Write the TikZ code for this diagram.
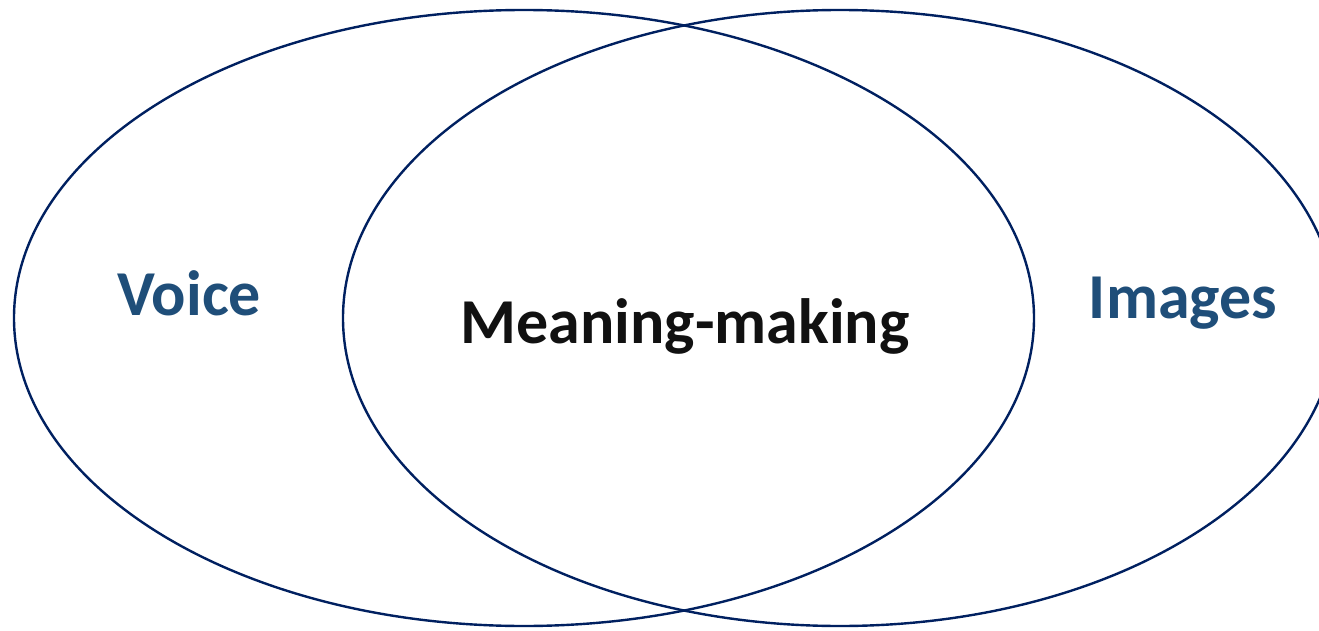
\documentclass[tikz,border=0pt]{standalone}
\usepackage{fontspec}
\setmainfont{Carlito}
\usetikzlibrary{shapes.geometric}
\definecolor{ringc}{RGB}{0,32,96}
\definecolor{labc}{RGB}{31,78,121}
\definecolor{mainc}{RGB}{17,17,17}
\begin{document}
\begin{tikzpicture}[x=1pt,y=-1pt,
  ring/.style={draw=ringc,line width=2.4pt,ellipse,inner sep=0pt,minimum width=#1,minimum height=616pt},
  lab/.style={font=\fontsize{64}{70}\selectfont\bfseries,text=labc,anchor=base,inner sep=0pt},
  mainlab/.style={font=\fontsize{64}{70}\selectfont\bfseries,text=mainc,anchor=base,inner sep=0pt}]
\useasboundingbox (0,0) rectangle (1319,631);
\clip (0,0) rectangle (1319,631);
\node[ring=1020pt] (voiceE) at (524,318) {};
\node[ring=994pt] (imagesE) at (840,318) {};
\node[lab] (voice) at (189,315) {Voice};
\node[lab] (images) at (1183,318) {Images};
\node[mainlab] (meaning) at (685,343) {Meaning-making};
\end{tikzpicture}
\end{document}
